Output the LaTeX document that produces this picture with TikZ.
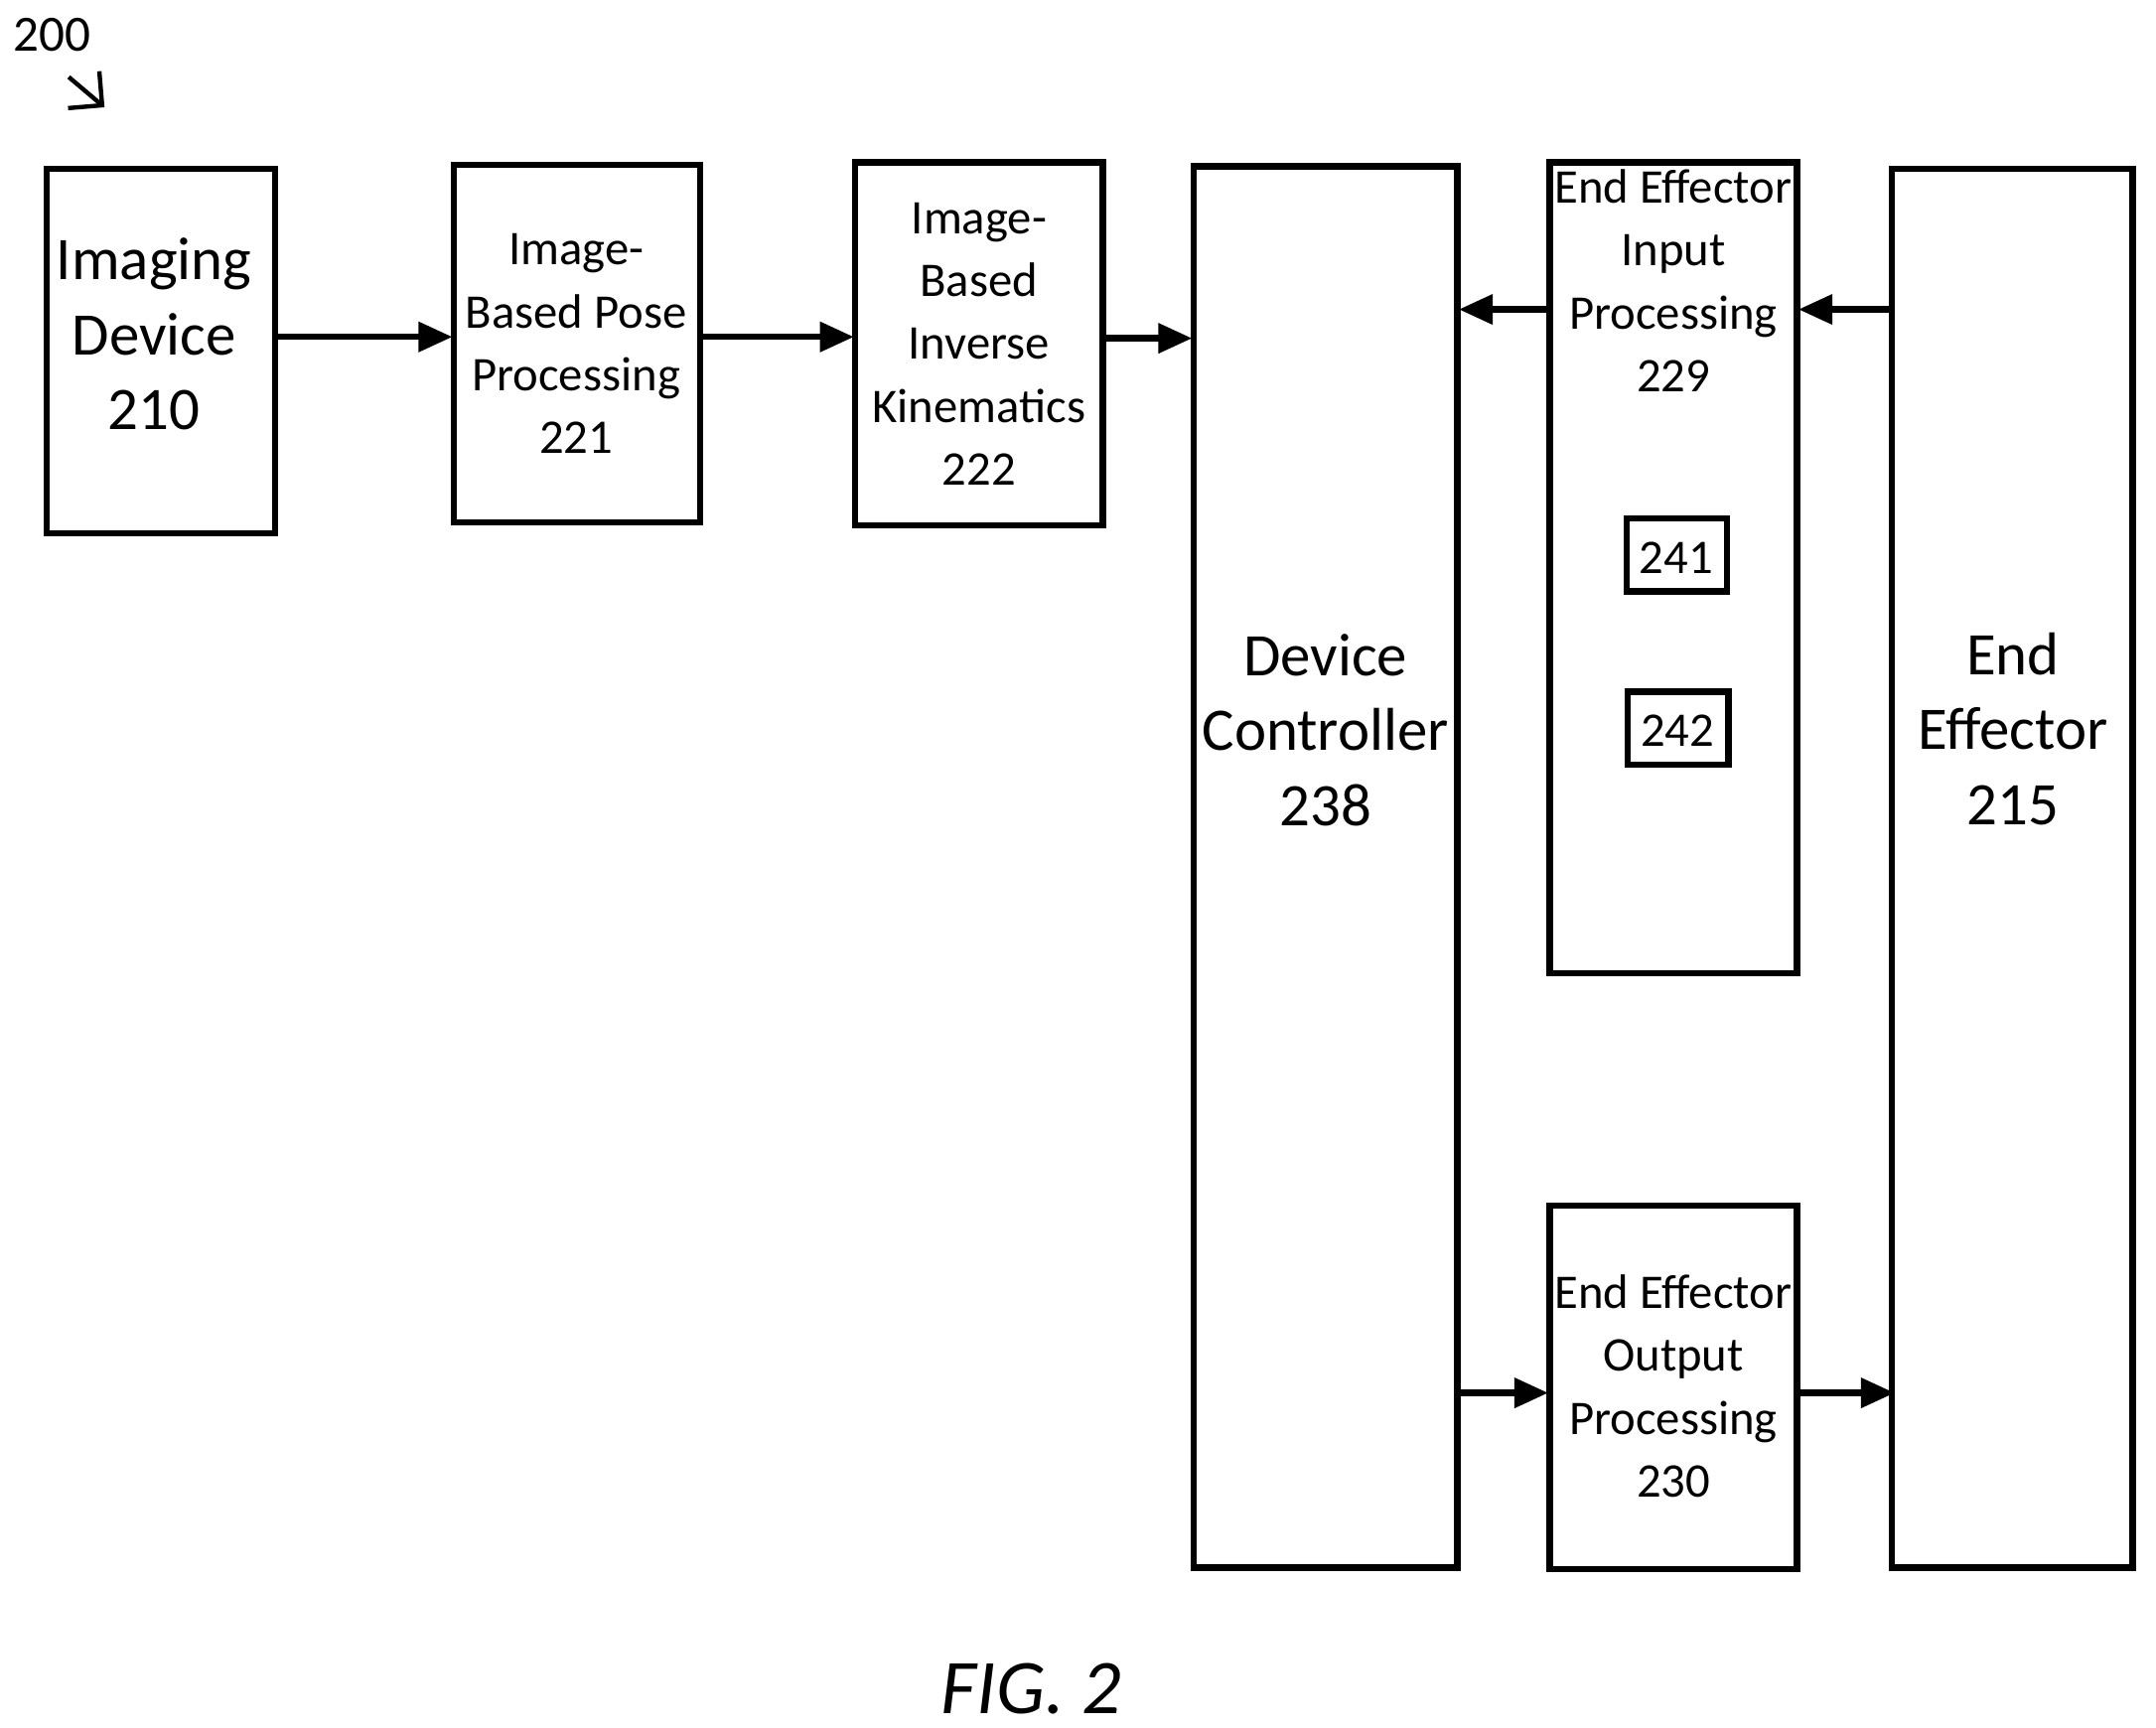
\documentclass[tikz,border=0pt]{standalone}
\usepackage{fontspec}
\setmainfont{Carlito}
\usetikzlibrary{arrows.meta}
\begin{document}
\begin{tikzpicture}[x=0.01cm,y=-0.01cm,
 box/.style={draw,line width=1.3pt,align=center,inner sep=0},
 big/.style={font=\fontsize{12.5}{15.5}\selectfont},
 sm/.style={font=\fontsize{10}{13}\selectfont},
 arr/.style={-{Triangle[length=7pt,width=6pt]},line width=1.3pt}]
\useasboundingbox (0,0) rectangle (1568,1256);
\newcommand{\bx}[6]{\draw[line width=1.3pt] (#2,#3) rectangle (#4,#5); \node[align=center,#6] (#1) at ({(#2+#4)/2},{(#3+#5)/2}) {};}
\draw[line width=1.3pt] (34,123) rectangle (200,388);
\node[align=center,big] at (112,243) {Imaging\\Device\\210};
\draw[line width=1.3pt] (330,120) rectangle (509,380);
\node[align=center,sm] at (419,250) {Image-\\Based Pose\\Processing\\221};
\draw[line width=1.3pt] (622,118) rectangle (802,382);
\node[align=center,sm] at (712,250) {Image-\\Based\\Inverse\\Kinematics\\222};
\draw[line width=1.3pt] (868,121) rectangle (1060,1140);
\node[align=center,big] at (964,531) {Device\\Controller\\238};
\draw[line width=1.3pt] (1127,118) rectangle (1307,708);
\node[align=center,sm] at (1217,204) {End Effector\\Input\\Processing\\229};
\draw[line width=1.3pt] (1183,377) rectangle (1256,430);
\node[sm] at (1219,406) {241};
\draw[line width=1.3pt] (1184,503) rectangle (1257,556);
\node[sm] at (1220,531) {242};
\draw[line width=1.3pt] (1127,877) rectangle (1307,1141);
\node[align=center,sm] at (1217,1008) {End Effector\\Output\\Processing\\230};
\draw[line width=1.3pt] (1376,123) rectangle (1551,1140);
\node[align=center,big] at (1464,530) {End\\Effector\\215};
\coordinate (a1) at (200,245); \coordinate (b1) at (330,245);
\draw[arr] (202,245) -- (329,245);
\draw[arr] (511,245) -- (621,245);
\draw[arr] (804,246) -- (867,246);
\draw[arr] (1126,225) -- (1061,225);
\draw[arr] (1375,225) -- (1308,225);
\draw[arr] (1061,1013) -- (1126,1013);
\draw[arr] (1308,1013) -- (1378,1013);
\node[font=\fontsize{10.5}{12}\selectfont] at (38,25) {200};
\draw[-{Straight Barb[length=5pt]},line width=0.9pt] (50,56) -- (76,78);
\node[font=\fontsize{16}{18}\itshape] at (750,1228) {FIG. 2};
\end{tikzpicture}
\end{document}
